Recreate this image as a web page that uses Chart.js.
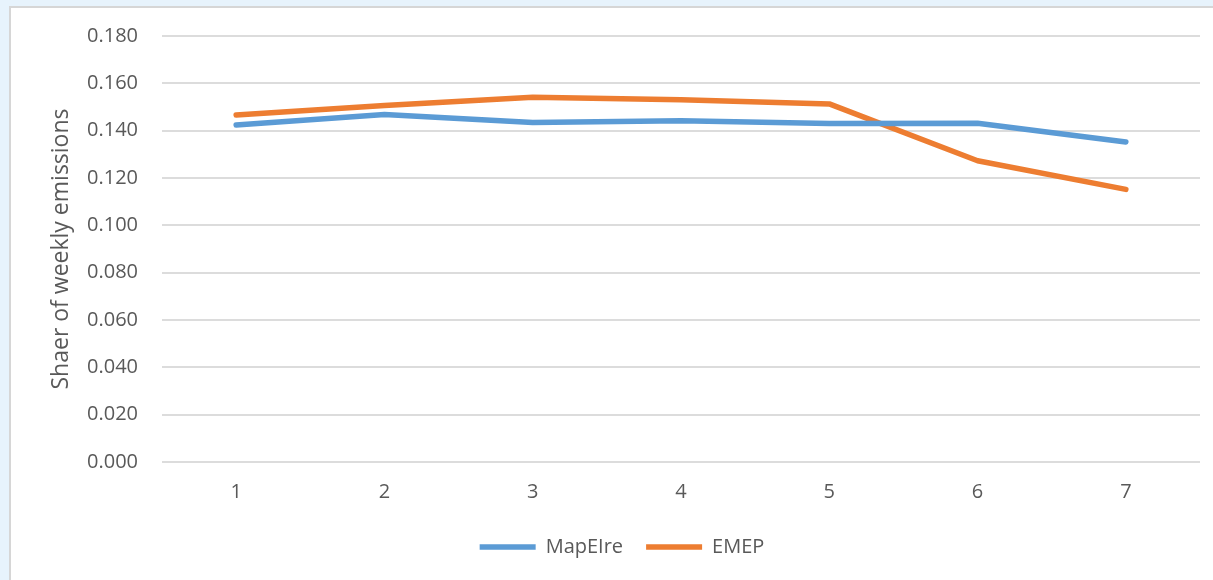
<!DOCTYPE html>
<html>
<head>
<meta charset="utf-8">
<script src="https://cdn.jsdelivr.net/npm/chart.js@4/dist/chart.umd.min.js"></script>
<style>
  html, body { margin: 0; padding: 0; width: 1213px; height: 580px; overflow: hidden; background: #e7f3fc; }
  #frame { position: absolute; left: 9px; top: 6px; width: 1300px; height: 700px; background: #fff; border: 2px solid #d6d6d6; }
  #wrap { position: absolute; left: 0; top: 0; width: 1213px; height: 580px; }
</style>
</head>
<body>
<div id="frame"></div>
<div id="wrap"><canvas id="weeklyChart" width="1213" height="580"></canvas></div>
<script>
//// Day of week categories
const days = ["1", "2", "3", "4", "5", "6", "7"];

//// Share of weekly emissions per day, for each model
const mapEireShare = [0.1424, 0.1468, 0.1435, 0.1442, 0.1430, 0.1431, 0.1352];
const emepShare = [0.1466, 0.1506, 0.1541, 0.1531, 0.1513, 0.1273, 0.1152];

//// Y axis range
const yMin = 0;
const yMax = 0.18;
const yStep = 0.02;

const TEXT = "#595959";
const FONT = "'Open Sans', 'Noto Sans', sans-serif";

var ctx = document.getElementById("weeklyChart").getContext('2d');
var weeklyChart = new Chart(ctx, {
    type: 'line',
    data: {
        labels: days,
        datasets: [{
            label: 'MapEIre',
            data: mapEireShare,
            borderColor: '#5b9bd5',
            backgroundColor: '#5b9bd5',
            borderWidth: 5.5,
            borderCapStyle: 'round',
            borderJoinStyle: 'round',
            pointRadius: 0,
            tension: 0
        }, {
            label: 'EMEP',
            data: emepShare,
            borderColor: '#ed7d31',
            backgroundColor: '#ed7d31',
            borderWidth: 5.5,
            borderCapStyle: 'round',
            borderJoinStyle: 'round',
            pointRadius: 0,
            tension: 0
        }]
    },
    options: {
        responsive: false,
        animation: false,
        layout: { padding: { left: 44, right: 13, top: 24, bottom: 13 } },
        plugins: {
            tooltip: { enabled: false },
            legend: {
                position: 'bottom',
                labels: {
                    color: TEXT,
                    font: { family: FONT, size: 20 },
                    usePointStyle: true,
                    pointStyle: 'line',
                    pointStyleWidth: 56,
                    padding: 23
                }
            }
        },
        scales: {
            x: {
                offset: true,
                grid: { display: false },
                border: { display: false },
                ticks: { color: TEXT, font: { family: FONT, size: 20 }, padding: 10 },
                afterFit: function (scale) { scale.height = 52; }
            },
            y: {
                min: yMin,
                max: yMax,
                border: { display: false },
                grid: { color: '#dcdcdc', lineWidth: 2, drawTicks: false },
                ticks: {
                    stepSize: yStep,
                    color: TEXT,
                    font: { family: FONT, size: 20 },
                    padding: 24,
                    callback: function (v) { return v.toFixed(3); }
                },
                title: {
                    display: true,
                    text: 'Shaer of weekly emissions',
                    color: TEXT,
                    font: { family: FONT, size: 23 },
                    padding: { top: 4, bottom: 11 }
                },
                afterFit: function (scale) { scale.width = 118; }
            }
        }
    }
});
</script>
</body>
</html>
